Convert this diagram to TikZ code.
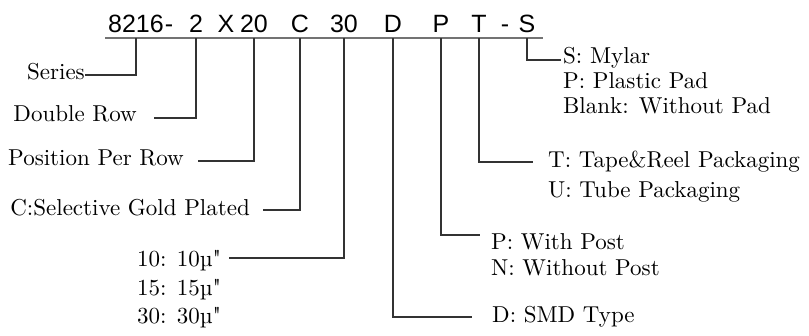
\documentclass[tikz,border=0pt]{standalone}
\usepackage{fontspec}
\setmainfont{lmroman10-regular.otf}[Ligatures=TeXOff]
\newfontfamily\codefont{Liberation Sans}
\usetikzlibrary{positioning}
\newcommand{\leadColor}{black!80}

\begin{document}
\begin{tikzpicture}[x=1pt, y=-1pt,
	code/.style={font=\codefont\fontsize{25}{30}\selectfont, inner sep=0pt, anchor=base},
	lbl/.style={font=\fontsize{23}{28}\selectfont, inner sep=0pt},
	lead/.style={draw=\leadColor, line width=1.2pt}]
	\useasboundingbox (0,0) rectangle (809,335);
	\def\B{32}
	
	% part number
	\node[code] (t8216) at (136,\B)	{8216};
	\node[code] (dA) at (169,\B)		{-};
	\node[code] (t2) at (196,\B)		{2};
	\node[code] (tX) at (226,\B)		{X};
	\node[code] (t20) at (254,\B)		{20};
	\node[code] (tC) at (300,\B)		{C};
	\node[code] (t30) at (344,\B)		{30};
	\node[code] (tD) at (393,\B)		{D};
	\node[code] (tP) at (441,\B)		{P};
	\node[code] (tT) at (479,\B)		{T};
	\node[code] (dB) at (505,\B)		{-};
	\node[code] (tS) at (527,\B)		{S};
	
	\coordinate (ulL) at (105,38);
	\coordinate (ulR) at (543,38);
	\draw[black!55, line width=1.4pt] (ulL) -- (ulR);
	
	% left side
	\node[lbl, anchor=base east] (lSer) at (85,79)		{Series};
	\node[lbl, anchor=base east] (lRow) at (137,121)	{Double Row};
	\node[lbl, anchor=base east] (lPos) at (184,165)	{Position Per Row};
	\node[lbl, anchor=base east] (lGold) at (250,215)	{C:Selective Gold Plated};
	\node[lbl, anchor=base west] (lM10) at (137,266)	{10: 10µ"};
	\node[lbl, anchor=base west] (lM15) at (137,295)	{15: 15µ"};
	\node[lbl, anchor=base west] (lM30) at (137,323)	{30: 30µ"};
	
	% right side
	\node[lbl, anchor=base west] (lS) at (563,63)		{S: Mylar};
	\node[lbl, anchor=base west] (lSP) at (563,88)		{P: Plastic Pad};
	\node[lbl, anchor=base west] (lSB) at (563,113)	{Blank: Without Pad};
	\node[lbl, anchor=base west] (lT) at (548,167)		{T: Tape\&Reel Packaging};
	\node[lbl, anchor=base west] (lTU) at (548,197)	{U: Tube Packaging};
	\node[lbl, anchor=base west] (lP) at (491,249)		{P: With Post};
	\node[lbl, anchor=base west] (lPN) at (491,275)	{N: Without Post};
	\node[lbl, anchor=base west] (lD) at (492,322)		{D: SMD Type};
	
	% lead ends
	\coordinate (eSer) at (85,75);
	\coordinate (eRow) at (154,118);
	\coordinate (ePos) at (198,161);
	\coordinate (eGold) at (263,210);
	\coordinate (eMic) at (229,258);
	\coordinate (eS) at (561,60);
	\coordinate (eT) at (533,162);
	\coordinate (eP) at (480,235);
	\coordinate (eD) at (472,317);
	
	\draw[lead] (t8216 |- ulL) |- (eSer);
	\draw[lead] (t2 |- ulL) |- (eRow);
	\draw[lead] (t20 |- ulL) |- (ePos);
	\draw[lead] (tC |- ulL) |- (eGold);
	\draw[lead] (t30 |- ulL) |- (eMic);
	\draw[lead] (tD |- ulL) |- (eD);
	\draw[lead] (tP |- ulL) |- (eP);
	\draw[lead] (tT |- ulL) |- (eT);
	\draw[lead] (tS |- ulL) |- (eS);
\end{tikzpicture}
\end{document}
